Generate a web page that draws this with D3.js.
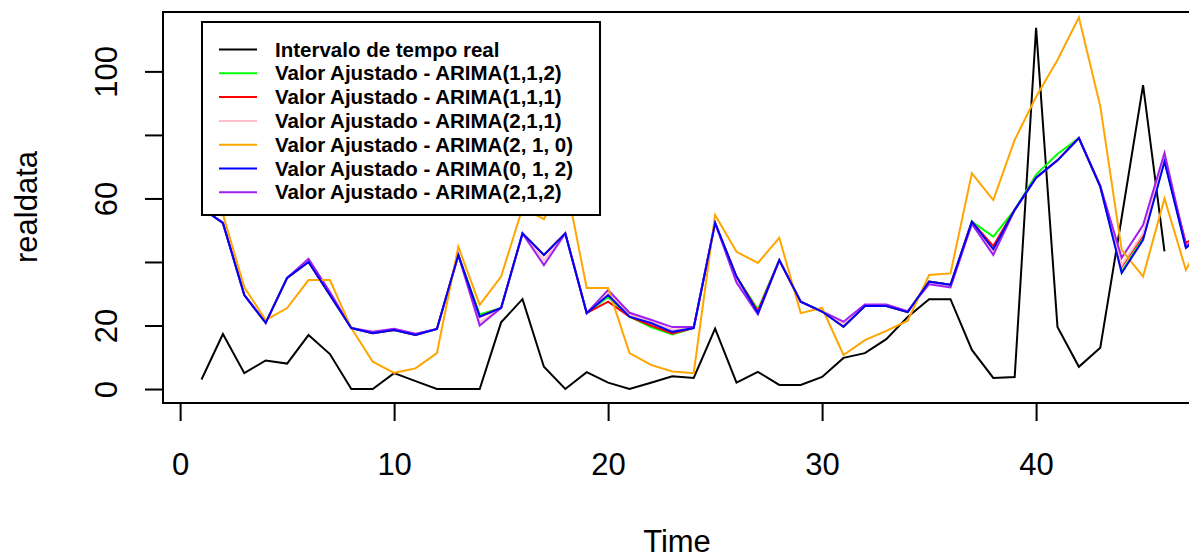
<!DOCTYPE html>
<html>
<head>
<meta charset="utf-8">
<script src="https://cdn.jsdelivr.net/npm/d3@7"></script>
<style>
  body { margin: 0; background: #fff; }
  svg { display: block; font-family: "Liberation Sans", Arial, sans-serif; }
</style>
</head>
<body>
<div id="chart"></div>
<script>
// real series (t = 1..46)
const realdata = [3, 17.3, 5, 9, 8, 17, 11, 0, 0, 5, 2.5, 0, 0, 0, 21, 28.3, 7, 0, 5.3, 2,
  0, 2, 4, 3.5, 19, 2, 5.4, 1.3, 1.3, 3.8, 9.8, 11.3, 15.7, 22.7, 28.3, 28.3, 12.3, 3.5, 3.8, 113.7,
  19.5, 7, 13, 54, 95.7, 43.3];

// fitted series (t = 1..48)
const arima112 = [57, 52.3, 29.6, 20.8, 35, 40, 29.6, 19.2, 17.6, 18.6, 17, 18.9, 42.2, 23.5, 25.5, 49, 42.2, 49, 23.9, 29,
  22.8, 19.5, 17.2, 19.2, 52.3, 35.4, 25, 40.6, 27.5, 24.4, 19.6, 26.1, 26.1, 24.2, 33.8, 32.8, 52.7, 48, 56.4, 67.5,
  74, 79, 63.7, 37, 47.5, 71.8, 44.6, 50];
const arima111 = [57, 52.3, 29.6, 20.8, 35, 40, 29.6, 19.2, 17.6, 18.6, 17, 18.9, 42.2, 22.8, 25.5, 49, 42.2, 49, 23.9, 27.5,
  22.8, 20, 17.5, 19.2, 52.3, 35.4, 24.5, 40.6, 27.5, 24.4, 19.6, 26.1, 26.1, 24.2, 33.8, 32.8, 52.7, 45, 56.4, 66.5,
  72, 79, 63.7, 38.5, 48.5, 72, 46, 50];
const arima211 = [57, 52.3, 29.6, 20.8, 35, 40.5, 30, 19.2, 17.8, 18.8, 17.2, 18.9, 42.2, 21, 25.5, 49, 40.5, 49, 23.9, 30.5,
  23.5, 21.3, 18.7, 19.4, 52.3, 34.5, 23.7, 40.6, 27.5, 24.4, 20.5, 26.3, 26.3, 24.3, 33.4, 32.4, 52.3, 43, 56.4, 66.5,
  72, 79, 63.8, 39, 49, 73, 44.7, 50];
const arima210 = [58, 55, 32, 21.7, 25.5, 34.3, 34.3, 19.2, 8.6, 5.1, 6.5, 11.3, 44.8, 26.5, 35.4, 57, 53.5, 66, 31.8, 31.8,
  11.3, 7.6, 5.5, 5, 54.8, 43.2, 39.7, 47.6, 23.9, 25.5, 10.7, 15.4, 18.3, 21.5, 35.9, 36.4, 67.9, 59.5, 78.4, 92,
  103.6, 117, 89, 43.8, 35.4, 60, 37.5, 50];
const arima012 = [57, 52.3, 29.6, 20.8, 35, 40, 29.6, 19.2, 17.6, 18.6, 17, 18.9, 42.2, 22.8, 25.5, 49, 42.2, 49, 23.9, 29.6,
  22.8, 20.8, 18, 19.2, 52.3, 35.4, 23.9, 40.6, 27.5, 24.4, 19.6, 26.1, 26.1, 24.2, 33.8, 32.8, 52.7, 44, 56.4, 66.5,
  72, 79, 63.7, 36.5, 47, 71.6, 44.4, 50];
const arima212 = [57, 52.3, 29.6, 20.8, 35, 41, 30.5, 19.2, 18, 19, 17.4, 18.9, 42.2, 20, 25.5, 49, 39, 49, 23.9, 31.2,
  24, 21.8, 19.5, 19.5, 52.3, 33.5, 23.5, 40.6, 27.5, 24.4, 21.2, 26.6, 26.6, 24.5, 33, 32, 52, 42.2, 56.4, 66.5,
  72, 79, 64, 41.3, 51.6, 74.3, 45, 50];

const legendLabels = ["Intervalo de tempo real", "Valor Ajustado - ARIMA(1,1,2)", "Valor Ajustado - ARIMA(1,1,1)",
  "Valor Ajustado - ARIMA(2,1,1)", "Valor Ajustado - ARIMA(2, 1, 0)", "Valor Ajustado - ARIMA(0, 1, 2)",
  "Valor Ajustado - ARIMA(2,1,2)"];
const colors = ["black", "#00ff00", "#ff0000", "#ffc0cb", "#ffa500", "#0000ff", "#a020f0"];

const xTicks = [0, 10, 20, 30, 40];
const yTicks = [0, 20, 40, 60, 80, 100];
const yLabelled = [0, 20, 60, 100];

const width = 1189, height = 559;
const plot = { left: 163, right: 1203, top: 12, bottom: 403 };

const svg = d3.select("#chart").append("svg")
    .attr("width", width)
    .attr("height", height);

svg.append("rect").attr("width", width).attr("height", height).attr("fill", "#fff");

const x = d3.scaleLinear().domain([-0.8, 47.8]).range([plot.left, plot.right]);
const y = d3.scaleLinear().domain([-4.4, 118.7]).range([plot.bottom, plot.top]);

svg.append("clipPath").attr("id", "clip")
  .append("rect")
    .attr("x", plot.left).attr("y", plot.top)
    .attr("width", plot.right - plot.left).attr("height", plot.bottom - plot.top);

const line = d3.line()
    .x((d, i) => x(i + 1))
    .y(d => y(d));

// drawing order: black, green, red, pink, purple, orange, blue
const series = [
  { values: realdata, color: colors[0] },
  { values: arima112, color: colors[1] },
  { values: arima111, color: colors[2] },
  { values: arima211, color: colors[3] },
  { values: arima212, color: colors[6] },
  { values: arima210, color: colors[4] },
  { values: arima012, color: colors[5] }
];

const linesGroup = svg.append("g").attr("clip-path", "url(#clip)");
linesGroup.selectAll("path")
  .data(series)
  .enter().append("path")
    .attr("d", d => line(d.values))
    .attr("fill", "none")
    .attr("stroke", d => d.color)
    .attr("stroke-width", 2)
    .attr("stroke-linejoin", "miter");

// box
svg.append("rect")
    .attr("x", plot.left).attr("y", plot.top)
    .attr("width", plot.right - plot.left).attr("height", plot.bottom - plot.top)
    .attr("fill", "none").attr("stroke", "black").attr("stroke-width", 2);

// axes
const xAxis = d3.axisBottom(x).tickValues(xTicks).tickSize(18).tickSizeOuter(0).tickPadding(32);
const xAxisGroup = svg.append("g")
    .attr("transform", `translate(0, ${plot.bottom})`)
    .call(xAxis);
xAxisGroup.select(".domain").remove();

const yAxis = d3.axisLeft(y).tickValues(yTicks).tickSize(18).tickSizeOuter(0)
    .tickFormat(d => yLabelled.includes(d) ? d : "");
const yAxisGroup = svg.append("g")
    .attr("transform", `translate(${plot.left}, 0)`)
    .call(yAxis);
yAxisGroup.select(".domain").remove();
yAxisGroup.selectAll("text")
    .attr("x", null).attr("dy", null)
    .attr("text-anchor", "middle")
    .attr("transform", "translate(-46, 0) rotate(-90)");

svg.selectAll(".tick line").attr("stroke", "black").attr("stroke-width", 2);
svg.selectAll(".tick text")
    .attr("fill", "black")
    .style("font-size", "31px")
    .style("font-family", "'Liberation Sans', Arial, sans-serif");

// axis titles
svg.append("text")
    .attr("x", 677).attr("y", 552)
    .attr("text-anchor", "middle")
    .style("font-size", "31px")
    .text("Time");

svg.append("text")
    .attr("transform", "translate(37, 207) rotate(-90)")
    .attr("text-anchor", "middle")
    .style("font-size", "31px")
    .text("realdata");

// legend
const legend = svg.append("g");
legend.append("rect")
    .attr("x", 202).attr("y", 22)
    .attr("width", 398).attr("height", 193)
    .attr("fill", "#fff").attr("stroke", "black").attr("stroke-width", 2);

const rows = legend.selectAll("g.row")
  .data(legendLabels)
  .enter().append("g")
    .attr("class", "row")
    .attr("transform", (d, i) => `translate(0, ${49.5 + i * 23.8})`);

rows.append("line")
    .attr("x1", 219).attr("x2", 257)
    .attr("stroke", (d, i) => colors[i])
    .attr("stroke-width", 2);

rows.append("text")
    .attr("x", 275).attr("dy", "0.35em")
    .style("font-size", "20.5px")
    .style("font-weight", "bold")
    .text(d => d);
</script>
</body>
</html>
